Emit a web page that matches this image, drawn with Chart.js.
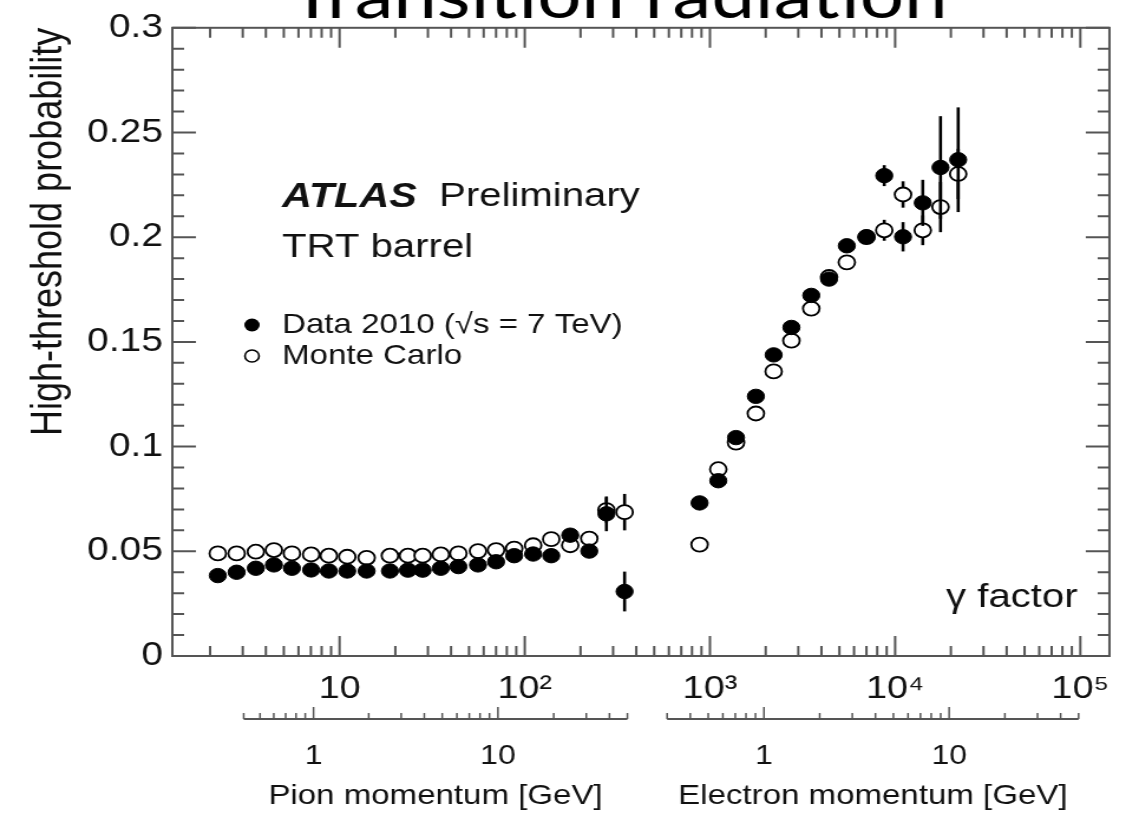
<!DOCTYPE html>
<html>
<head>
<meta charset="utf-8">
<title>Transition radiation</title>
<script src="https://cdn.jsdelivr.net/npm/chart.js@4.4.0/dist/chart.umd.min.js"></script>
<style>
  html, body { margin: 0; padding: 0; background: #fff; overflow: hidden; }
  #wrap { width: 954px; height: 819px; transform: scaleX(1.18029); transform-origin: 0 0; }
  #c { display: block; }
</style>
</head>
<body>
<!-- the original figure is stretched sideways, so the canvas is too -->
<div id="wrap"><canvas id="c" width="954" height="819"></canvas></div>
<script>
// ===== data =====
// pion bins (gamma factor) and high-threshold probability
const pionGamma = [2.20, 2.78, 3.53, 4.42, 5.53, 7.02, 8.75, 11.0, 14.0, 18.7, 23.4, 28.1,
                   35.2, 43.8, 55.9, 70.0, 87.7, 111, 139, 176, 223, 276, 346];
const pionData = [0.0384, 0.0400, 0.0419, 0.0435, 0.0419, 0.0411, 0.0406, 0.0406, 0.0406, 0.0406, 0.0410, 0.0410,
                  0.0419, 0.0427, 0.0435, 0.0450, 0.0479, 0.0487, 0.0479, 0.0577, 0.0501, 0.0679, 0.0308];
const pionDataErr = [0.001, 0.001, 0.001, 0.001, 0.001, 0.001, 0.001, 0.001, 0.001, 0.001, 0.001, 0.001,
                     0.001, 0.001, 0.001, 0.001, 0.001, 0.001, 0.001, 0.002, 0.002, 0.0083, 0.0095];
const pionMC = [0.0490, 0.0490, 0.0498, 0.0506, 0.0490, 0.0485, 0.0479, 0.0474, 0.0469, 0.0479, 0.0479, 0.0479,
                0.0485, 0.0490, 0.0501, 0.0506, 0.0513, 0.0529, 0.0558, 0.0529, 0.0561, 0.0697, 0.0687];
const pionMCErr = [0.001, 0.001, 0.001, 0.001, 0.001, 0.001, 0.001, 0.001, 0.001, 0.001, 0.001, 0.001,
                   0.001, 0.001, 0.001, 0.001, 0.001, 0.001, 0.001, 0.002, 0.002, 0.006, 0.0087];

// electron bins
const electronGamma = [879, 1109, 1383, 1770, 2208, 2754, 3524, 4397, 5484, 7003, 8735, 11030, 14100, 17580, 21900];
const electronData = [0.0731, 0.0837, 0.1043, 0.1240, 0.1438, 0.1569, 0.1722, 0.1800, 0.1959, 0.2002,
                      0.2294, 0.2002, 0.2164, 0.2333, 0.2370];
const electronDataErr = [0.002, 0.002, 0.002, 0.002, 0.002, 0.002, 0.002, 0.002, 0.003, 0.003,
                         0.005, 0.007, 0.011, 0.0245, 0.025];
const electronMC = [0.0532, 0.0892, 0.1019, 0.1158, 0.1359, 0.1506, 0.1659, 0.1810, 0.1880, 0.2000,
                    0.2033, 0.2204, 0.2033, 0.2144, 0.2302];
const electronMCErr = [0.002, 0.002, 0.002, 0.002, 0.002, 0.002, 0.002, 0.002, 0.003, 0.003,
                       0.005, 0.0063, 0.0071, 0.012, 0.012];

// axes
const gammaTicks = [10, 100, 1000, 10000, 100000];
const gammaTickLabels = ['10', '10²', '10³', '10⁴', '10⁵'];
const yTicks = [0, 0.05, 0.1, 0.15, 0.2, 0.25, 0.3];
const pionMomRange = [0.4, 50];
const electronMomRange = [0.3, 50];
const momTicks = [1, 10];
const momTickLabels = ['1', '10'];

const M_PION = 0.13957;     // GeV
const M_ELECTRON = 0.000511; // GeV

const FONT = "'Liberation Sans', Arial, Helvetica, sans-serif";
const AXIS = '#555';
const INK = '#111';

Chart.defaults.font.family = FONT;
Chart.defaults.color = INK;

function toPoints(xs, ys, errs) {
  return xs.map((x, i) => ({ x: x, y: ys[i], err: errs[i] }));
}

function gammaOf(p, m) {
  return Math.sqrt(1 + (p / m) * (p / m));
}

// 1..9 x 10^n ticks inside [lo, hi]
function logTicks(lo, hi) {
  const out = [];
  for (let e = Math.floor(Math.log10(lo)); e <= Math.ceil(Math.log10(hi)); e++) {
    for (let m = 1; m <= 9; m++) {
      const v = m * Math.pow(10, e);
      if (v >= lo * 0.999 && v <= hi * 1.001) out.push({ v: v, major: m === 1 });
    }
  }
  return out;
}

// ===== error bars, drawn just before each dataset's markers =====
const errorBars = {
  id: 'errorBars',
  beforeDatasetDraw(chart, args) {
    const ctx = chart.ctx;
    const y = chart.scales.y;
    const meta = args.meta;
    const ds = chart.data.datasets[args.index];
    ctx.save();
    ctx.strokeStyle = '#000';
    ctx.lineWidth = 2.6;
    meta.data.forEach((el, i) => {
      const d = ds.data[i];
      const top = y.getPixelForValue(d.y + d.err);
      const bot = y.getPixelForValue(d.y - d.err);
      ctx.beginPath();
      ctx.moveTo(el.x, top);
      ctx.lineTo(el.x, bot);
      ctx.stroke();
    });
    ctx.restore();
  }
};

// ===== frame, inward ticks, momentum axes and texts =====
const decorations = {
  id: 'decorations',
  afterDraw(chart) {
    const ctx = chart.ctx;
    const xs = chart.scales.x;
    const ys = chart.scales.y;
    const a = chart.chartArea;

    ctx.save();
    ctx.strokeStyle = AXIS;
    ctx.lineWidth = 2;
    ctx.strokeRect(a.left, a.top, a.right - a.left, a.bottom - a.top);

    // x ticks, bottom and top
    logTicks(xs.min, xs.max).forEach(t => {
      const px = xs.getPixelForValue(t.v);
      const len = t.major ? 20 : 10;
      ctx.beginPath();
      ctx.moveTo(px, a.bottom); ctx.lineTo(px, a.bottom - len);
      ctx.moveTo(px, a.top); ctx.lineTo(px, a.top + len);
      ctx.stroke();
    });
    // y ticks, left and right
    for (let k = 0; k <= 30; k++) {
      const py = ys.getPixelForValue(k / 100);
      const len = k % 5 === 0 ? 20 : 10;
      ctx.beginPath();
      ctx.moveTo(a.left, py); ctx.lineTo(a.left + len, py);
      ctx.moveTo(a.right, py); ctx.lineTo(a.right - len, py);
      ctx.stroke();
    }

    // momentum axes below the gamma axis
    const axisY = 719;
    const momAxes = [
      { range: pionMomRange, mass: M_PION, title: 'Pion momentum [GeV]' },
      { range: electronMomRange, mass: M_ELECTRON, title: 'Electron momentum [GeV]' }
    ];
    momAxes.forEach(ax => {
      const x0 = xs.getPixelForValue(gammaOf(ax.range[0], ax.mass));
      const x1 = xs.getPixelForValue(gammaOf(ax.range[1], ax.mass));
      ctx.strokeStyle = AXIS;
      ctx.lineWidth = 2;
      ctx.beginPath();
      ctx.moveTo(x0, axisY); ctx.lineTo(x1, axisY);
      ctx.stroke();
      ctx.lineWidth = 1.5;
      logTicks(ax.range[0], ax.range[1]).forEach(t => {
        const px = xs.getPixelForValue(gammaOf(t.v, ax.mass));
        ctx.beginPath();
        ctx.moveTo(px, axisY); ctx.lineTo(px, axisY - (t.major ? 12 : 6));
        ctx.stroke();
      });
      ctx.fillStyle = INK;
      ctx.textAlign = 'center';
      ctx.textBaseline = 'middle';
      ctx.font = '27px ' + FONT;
      momTicks.forEach((p, i) => {
        ctx.fillText(momTickLabels[i], xs.getPixelForValue(gammaOf(p, ax.mass)), 757);
      });
      ctx.font = '28px ' + FONT;
      ctx.fillText(ax.title, (x0 + x1) / 2, 796);
    });

    // page title, cut by the top edge
    ctx.fillStyle = '#000';
    ctx.textAlign = 'center';
    ctx.textBaseline = 'alphabetic';
    ctx.font = '66px Lato, ' + FONT;
    ctx.fillText('Transition radiation', 524, 18);

    // labels inside the frame
    ctx.fillStyle = INK;
    ctx.textAlign = 'left';
    ctx.textBaseline = 'middle';
    ctx.font = 'italic bold 35px ' + FONT;
    ctx.fillText('ATLAS', 239, 197);
    ctx.font = '34px ' + FONT;
    ctx.fillText('Preliminary', 372, 197);
    ctx.fillText('TRT barrel', 239, 248);

    // legend
    ctx.font = '28px ' + FONT;
    ctx.fillText('Data 2010 (\u221As = 7 TeV)', 239, 325);
    ctx.fillText('Monte Carlo', 239, 356);
    ctx.beginPath();
    ctx.arc(213.5, 325, 6.5, 0, Math.PI * 2);
    ctx.fillStyle = '#000';
    ctx.fill();
    ctx.beginPath();
    ctx.arc(213.5, 356, 6, 0, Math.PI * 2);
    ctx.fillStyle = '#fff';
    ctx.fill();
    ctx.strokeStyle = '#000';
    ctx.lineWidth = 1.6;
    ctx.stroke();

    ctx.fillStyle = INK;
    ctx.textAlign = 'right';
    ctx.font = '34px ' + FONT;
    ctx.fillText('\u03B3 factor', 913, 598);
    ctx.restore();
  }
};

const dataPoints = toPoints(pionGamma, pionData, pionDataErr)
  .concat(toPoints(electronGamma, electronData, electronDataErr));
const mcPoints = toPoints(pionGamma, pionMC, pionMCErr)
  .concat(toPoints(electronGamma, electronMC, electronMCErr));

new Chart(document.getElementById('c'), {
  type: 'scatter',
  data: {
    datasets: [
      {
        label: 'Data 2010',
        data: dataPoints,
        pointStyle: 'circle',
        pointRadius: 7.2,
        backgroundColor: '#000',
        borderColor: '#000',
        borderWidth: 1
      },
      {
        label: 'Monte Carlo',
        data: mcPoints,
        pointStyle: 'circle',
        pointRadius: 7,
        backgroundColor: '#fff',
        borderColor: '#000',
        borderWidth: 1.8
      }
    ]
  },
  options: {
    responsive: false,
    animation: false,
    layout: { padding: { top: 21, right: 4, left: 0, bottom: 0 } },
    plugins: {
      legend: { display: false },
      tooltip: { enabled: false }
    },
    scales: {
      x: {
        type: 'logarithmic',
        bounds: 'data',
        min: 1.25,
        max: 143600,
        grid: { display: false, drawTicks: false },
        border: { display: false },
        afterBuildTicks: s => { s.ticks = gammaTicks.map(v => ({ value: v })); },
        ticks: {
          autoSkip: false,
          maxRotation: 0,
          padding: 14,
          color: INK,
          font: { size: 32 },
          callback: (v, i) => gammaTickLabels[i]
        },
        afterFit: s => { s.height = 163; }
      },
      y: {
        min: 0,
        max: 0.3,
        grid: { display: false, drawTicks: false },
        border: { display: false },
        afterBuildTicks: s => { s.ticks = yTicks.map(v => ({ value: v })); },
        ticks: {
          padding: 8,
          color: INK,
          font: { size: 33 },
          callback: v => String(v)
        },
        title: {
          display: true,
          text: 'High-threshold probability',
          align: 'end',
          color: INK,
          padding: { top: 20, bottom: 0 },
          font: { size: 36 }
        },
        afterFit: s => { s.width = 146; }
      }
    }
  },
  plugins: [errorBars, decorations]
});
</script>
</body>
</html>
